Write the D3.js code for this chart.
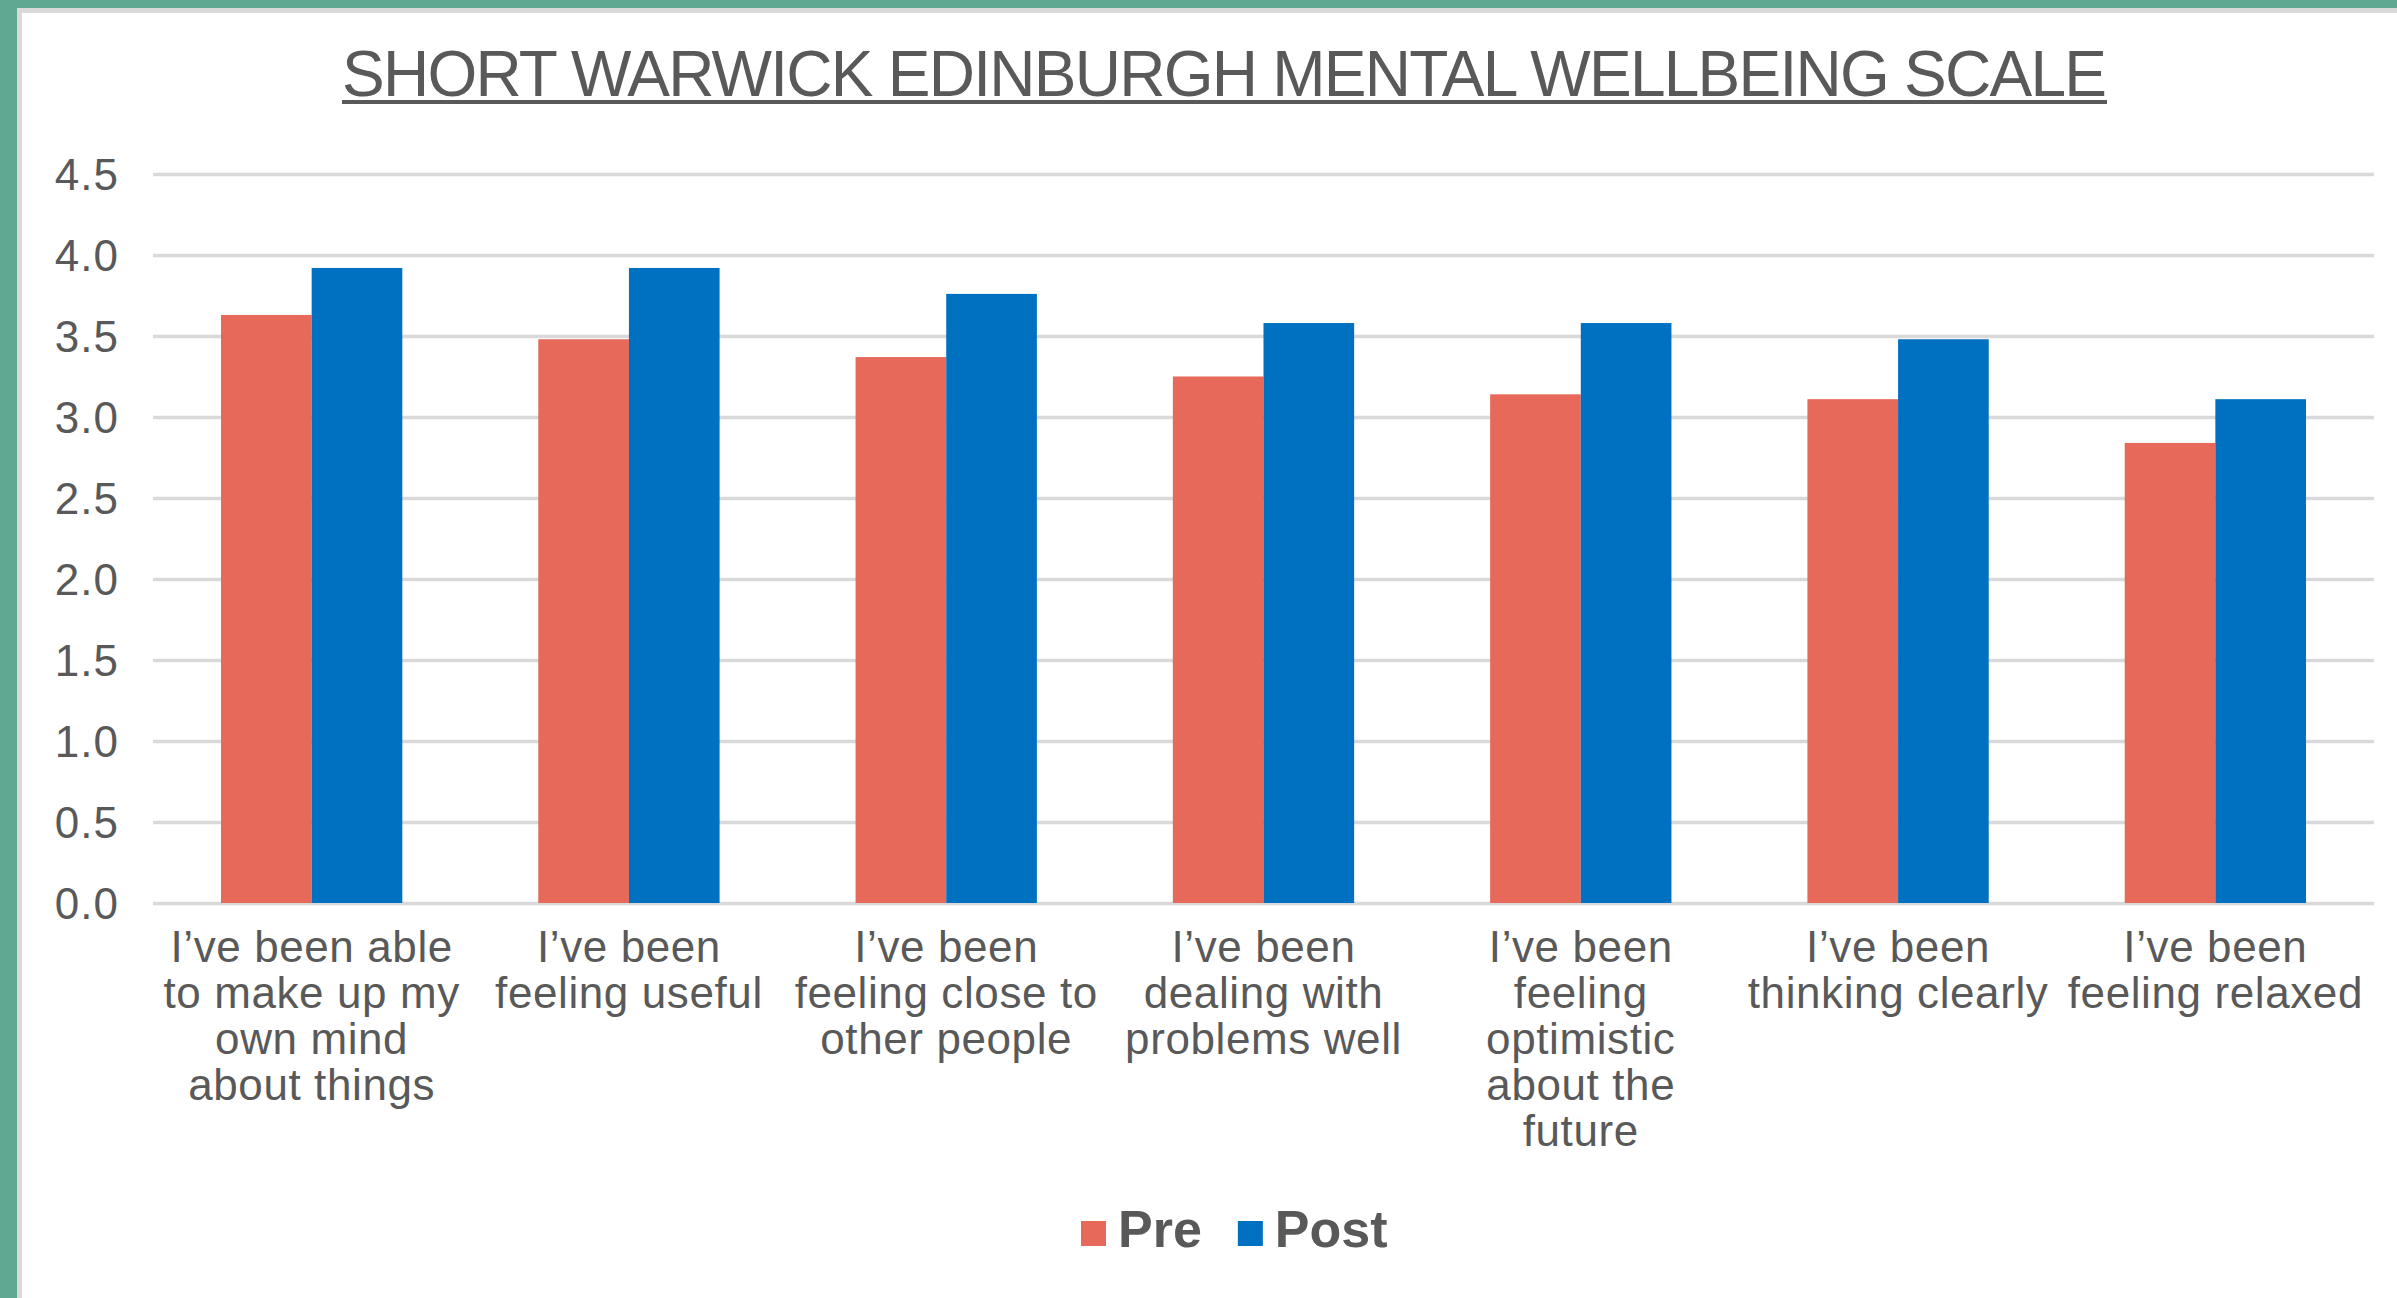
<!DOCTYPE html>
<html>
<head>
<meta charset="utf-8">
<script src="https://cdn.jsdelivr.net/npm/d3@7"></script>
<style>
  html, body { margin: 0; padding: 0; background: #ffffff; }
  svg { display: block; }
  text { font-family: "Liberation Sans", Arial, Helvetica, sans-serif; fill: #595959; }
</style>
</head>
<body>
<script>
// Chart data
const categories = [
  "able to make up my own mind",
  "feeling useful",
  "feeling close to other people",
  "dealing with problems well",
  "feeling optimistic about the future",
  "thinking clearly",
  "feeling relaxed"
];
const categoryLabels = [
  ["I’ve been able", "to make up my", "own mind", "about things"],
  ["I’ve been", "feeling useful"],
  ["I’ve been", "feeling close to", "other people"],
  ["I’ve been", "dealing with", "problems well"],
  ["I’ve been", "feeling", "optimistic", "about the", "future"],
  ["I’ve been", "thinking clearly"],
  ["I’ve been", "feeling relaxed"]
];
const seriesNames = ["Pre", "Post"];
const preValues  = [3.63, 3.48, 3.37, 3.25, 3.14, 3.11, 2.84];
const postValues = [3.92, 3.92, 3.76, 3.58, 3.58, 3.48, 3.11];
const yTicks = [0, 0.5, 1, 1.5, 2, 2.5, 3, 3.5, 4, 4.5];
const titleText = "SHORT WARWICK EDINBURGH MENTAL WELLBEING SCALE";

const seriesColors = { Pre: "#e6695a", Post: "#0070c0" };

const W = 2397, H = 1298;
const plot = { left: 153, right: 2374, top: 174, bottom: 903 };

const svg = d3.select("body").append("svg")
  .attr("width", W).attr("height", H);

// Frame: green strip on the left and top with a light grey edge
svg.append("rect").attr("x", 0).attr("y", 0).attr("width", W).attr("height", H).attr("fill", "#60a891");
svg.append("rect").attr("x", 17).attr("y", 8).attr("width", W - 17).attr("height", H - 8).attr("fill", "#dadada");
svg.append("rect").attr("x", 22).attr("y", 13).attr("width", W - 22).attr("height", H - 13).attr("fill", "#ffffff");

// Scales
const y = d3.scaleLinear().domain([0, 4.5]).range([plot.bottom, plot.top]);
const x0 = d3.scaleBand().domain(categories).range([plot.left, plot.right])
  .paddingInner(1.5 / 3.5).paddingOuter(0.75 / 3.5);
const x1 = d3.scaleBand().domain(seriesNames).range([0, x0.bandwidth()]).padding(0);

// Gridlines (drawn with a y axis using full-width ticks)
const grid = svg.append("g")
  .attr("transform", `translate(${plot.left},0)`)
  .call(d3.axisLeft(y).tickValues(yTicks).tickSize(-(plot.right - plot.left)).tickFormat(""));
grid.select(".domain").remove();
grid.selectAll(".tick line").attr("stroke", "#d9d9d9").attr("stroke-width", 3.5);

// Y tick labels
const yAxis = svg.append("g")
  .attr("transform", `translate(119,0)`)
  .call(d3.axisLeft(y).tickValues(yTicks).tickSize(0).tickPadding(0).tickFormat(d3.format(".1f")));
yAxis.select(".domain").remove();
yAxis.selectAll(".tick text")
  .attr("font-size", 44)
  .attr("letter-spacing", 1)
  .attr("fill", "#595959")
  .attr("font-family", "Liberation Sans, Arial, sans-serif")
  .attr("dy", "0.36em");

// Bars
const rows = categories.map((c, i) => ({ cat: c, Pre: preValues[i], Post: postValues[i] }));
const groups = svg.append("g").selectAll("g").data(rows).join("g")
  .attr("transform", d => `translate(${x0(d.cat)},0)`);
groups.selectAll("rect")
  .data(d => seriesNames.map(s => ({ s, v: d[s] })))
  .join("rect")
  .attr("x", d => x1(d.s))
  .attr("width", x1.bandwidth())
  .attr("y", d => y(d.v))
  .attr("height", d => y(0) - y(d.v))
  .attr("fill", d => seriesColors[d.s]);

// Category labels (wrapped lines)
const xAxis = svg.append("g")
  .attr("transform", `translate(0,${plot.bottom})`)
  .call(d3.axisBottom(x0).tickSize(0).tickFormat(""));
xAxis.select(".domain").remove();
xAxis.selectAll(".tick").each(function (d, i) {
  const t = d3.select(this).append("text")
    .attr("text-anchor", "middle")
    .attr("font-size", 44)
    .attr("letter-spacing", 0.6)
    .attr("fill", "#595959")
    .attr("y", 59);
  categoryLabels[i].forEach((line, k) => {
    t.append("tspan").attr("x", 0).attr("dy", k === 0 ? 0 : 46).text(line);
  });
});

// Title with underline
const title = svg.append("text")
  .attr("x", 1224.5).attr("y", 95.5)
  .attr("text-anchor", "middle")
  .attr("font-size", 64)
  .attr("textLength", 1765)
  .attr("lengthAdjust", "spacing")
  .text(titleText);
const tb = title.node().getBBox();
svg.append("rect")
  .attr("x", tb.x).attr("y", 100)
  .attr("width", tb.width).attr("height", 4)
  .attr("fill", "#595959");

// Legend
const legend = svg.append("g");
let lx = 1081;
seriesNames.forEach((s) => {
  legend.append("rect").attr("x", lx).attr("y", 1221).attr("width", 25).attr("height", 25)
    .attr("fill", seriesColors[s]);
  const t = legend.append("text")
    .attr("x", lx + 37).attr("y", 1247)
    .attr("font-size", 52).attr("font-weight", "bold")
    .text(s);
  lx += 37 + t.node().getComputedTextLength() + 36;
});
</script>
</body>
</html>
